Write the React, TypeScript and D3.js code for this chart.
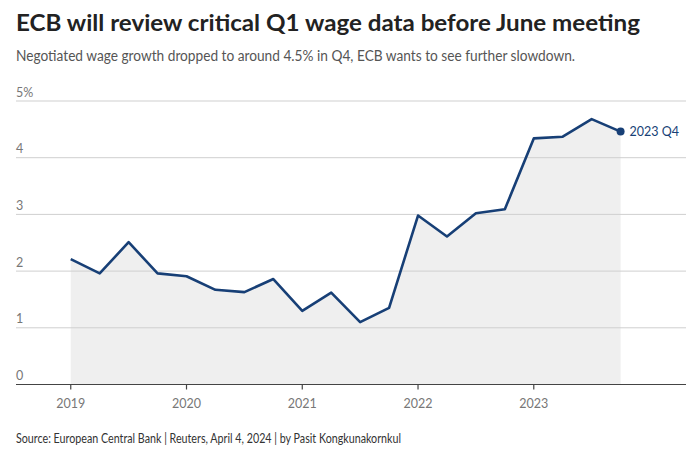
import React from "react";
import * as d3 from "d3";

const quarters = [
  2019.0, 2019.25, 2019.5, 2019.75,
  2020.0, 2020.25, 2020.5, 2020.75,
  2021.0, 2021.25, 2021.5, 2021.75,
  2022.0, 2022.25, 2022.5, 2022.75,
  2023.0, 2023.25, 2023.5, 2023.75,
];
const wageGrowth = [
  2.21, 1.96, 2.51, 1.96,
  1.91, 1.67, 1.63, 1.86,
  1.30, 1.62, 1.10, 1.35,
  2.98, 2.61, 3.02, 3.09,
  4.34, 4.37, 4.68, 4.46,
];
const yTicks = [0, 1, 2, 3, 4, 5];
const xTicks = [2019, 2020, 2021, 2022, 2023];
const lastLabel = "2023 Q4";

const W = 700;
const H = 454;
const FONT = "Lato, 'Open Sans', sans-serif";
const BLUE = "#173f76";

export default function App() {
  const x = d3.scaleLinear().domain([2018.527, 2024.315]).range([16, 686]);
  const y = d3.scaleLinear().domain([0, 5]).range([384.5, 101]);
  const pts = quarters.map((q, i) => [q, wageGrowth[i]] as [number, number]);
  const line = d3.line<[number, number]>().x((d) => x(d[0])).y((d) => y(d[1]));
  const area = d3
    .area<[number, number]>()
    .x((d) => x(d[0]))
    .y0(y(0))
    .y1((d) => y(d[1]));
  const last = pts[pts.length - 1];

  return (
    <svg width={W} height={H} style={{ position: "absolute", left: 0, top: 0, background: "#fff" }} fontFamily={FONT}>
      <rect width={W} height={H} fill="#fff" />
      <text x={16} y={31} fontSize={23} fontWeight={700} fill="#222" textLength={624} lengthAdjust="spacingAndGlyphs">
        ECB will review critical Q1 wage data before June meeting
      </text>
      <text x={16} y={61} fontSize={14.5} fill="#555" textLength={559} lengthAdjust="spacingAndGlyphs">
        Negotiated wage growth dropped to around 4.5% in Q4, ECB wants to see further slowdown.
      </text>
      <path d={area(pts) || ""} fill="#efefef" />
      {yTicks.filter((t) => t > 0).map((t) => (
        <line key={t} x1={16} x2={686} y1={y(t)} y2={y(t)} stroke="#cfcfcf" strokeWidth={1} />
      ))}
      {yTicks.map((t) => (
        <text key={"l" + t} x={16} y={y(t) - 4.5} fontSize={12.5} fill="#777">
          {t === 5 ? "5%" : String(t)}
        </text>
      ))}
      <line x1={16} x2={686} y1={y(0)} y2={y(0)} stroke="#444" strokeWidth={1.2} />
      {xTicks.map((t) => (
        <g key={"x" + t}>
          <line x1={x(t)} x2={x(t)} y1={y(0)} y2={y(0) + 5} stroke="#444" strokeWidth={1.2} />
          <text x={x(t)} y={408} fontSize={12.5} fill="#777" textAnchor="middle">
            {t}
          </text>
        </g>
      ))}
      <path d={line(pts) || ""} fill="none" stroke={BLUE} strokeWidth={2.6} strokeLinejoin="round" />
      <circle cx={x(last[0])} cy={y(last[1])} r={4} fill={BLUE} />
      <text x={x(last[0]) + 9} y={y(last[1]) + 4.5} fontSize={12.5} fill={BLUE}>
        {lastLabel}
      </text>
      <text x={16} y={443} fontSize={12.5} fill="#333" textLength={385} lengthAdjust="spacingAndGlyphs">
        Source: European Central Bank | Reuters, April 4, 2024 | by Pasit Kongkunakornkul
      </text>
    </svg>
  );
}
